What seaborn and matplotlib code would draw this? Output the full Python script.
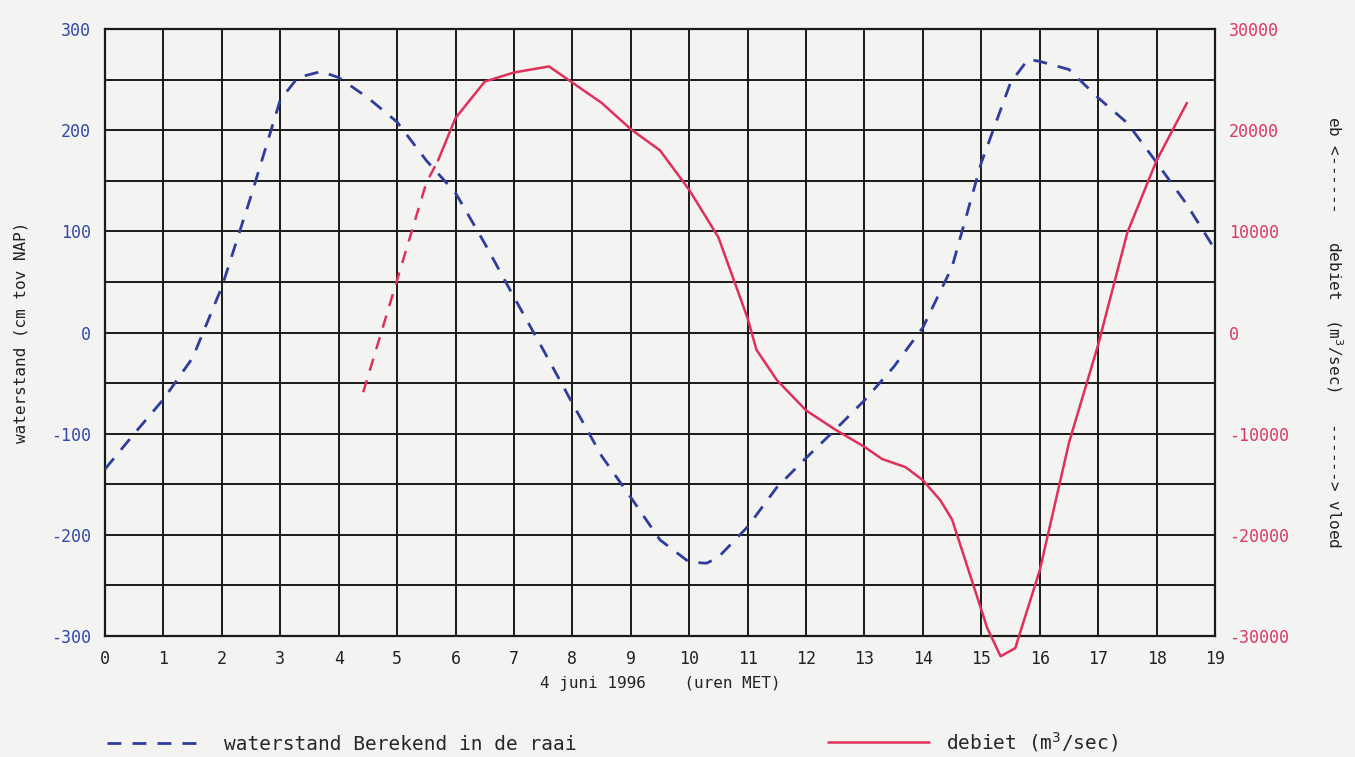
import numpy as np
import matplotlib
matplotlib.use("Agg")
import matplotlib.pyplot as plt
import seaborn as sns
from matplotlib.lines import Line2D

# waterstand (cm tov NAP), per half uur
uren_water = [0, 0.5, 1, 1.5, 2, 2.5, 3, 3.3, 3.7, 4, 4.5, 5, 5.5, 6, 6.5, 7, 7.5, 8,
              8.5, 9, 9.5, 10, 10.3, 10.5, 11, 11.5, 12, 12.5, 13, 13.5, 14, 14.5,
              15, 15.5, 15.8, 16, 16.5, 17, 17.5, 18, 18.5, 19]
waterstand = [-135, -100, -66, -25, 45, 135, 230, 252, 258, 252, 232, 208, 170, 138, 88, 35, -17, -70,
              -122, -163, -205, -227, -228, -222, -192, -153, -124, -96, -67, -34, 5, 65,
              168, 247, 270, 268, 260, 232, 207, 168, 128, 82]

# debiet (m3/sec): eerste deel gestreept, daarna doorgetrokken
uren_debiet_gestreept = [4.42, 5, 5.5, 5.7]
debiet_gestreept = [-5900, 5200, 14800, 17000]
uren_debiet = [5.7, 6, 6.5, 7, 7.5, 7.6, 8, 8.5, 9, 9.5, 10, 10.5, 11, 11.15, 11.5, 12, 12.5,
               13, 13.3, 13.7, 14, 14.3, 14.5, 15, 15.1, 15.33, 15.58, 16, 16.5, 17, 17.5,
               18, 18.3, 18.52]
debiet = [17000, 21200, 24800, 25700, 26200, 26300, 24700, 22700, 20100, 18000, 14100, 9400, 1400,
          -1700, -4700, -7700, -9600, -11300, -12500, -13300, -14600, -16600, -18500, -27400,
          -29200, -32000, -31200, -23500, -10900, -1200, 9900, 17000, 20300, 22700]

uur_ticks = list(range(0, 20))
water_ticks = [-300, -200, -100, 0, 100, 200, 300]
debiet_ticks = [-30000, -20000, -10000, 0, 10000, 20000, 30000]

blauw = "#2e3d9c"
rood = "#e0305a"
tick_blauw = "#3548a8"
tick_rood = "#d9386a"
achtergrond = "#f3f3f1"

sns.set_style("white")
plt.rcParams["font.family"] = ["DejaVu Sans Mono"]
plt.rcParams["axes.unicode_minus"] = False

fig = plt.figure(figsize=(13.55, 7.57), dpi=100, facecolor=achtergrond)
ax = fig.add_axes([0.0775, 0.1598, 0.8192, 0.8019])
ax.set_facecolor(achtergrond)

sns.lineplot(x=uren_water, y=waterstand, ax=ax, color=blauw, lw=2.0,
             linestyle=(0, (5, 4)), zorder=3)

ax.set_xlim(0, 19)
ax.set_ylim(-300, 300)
ax.set_xticks(uur_ticks)
ax.set_yticks(water_ticks)
ax.set_yticks(np.arange(-250, 300, 100), minor=True)
ax.grid(True, which="both", color="#1a1a1a", lw=1.4)
ax.set_axisbelow(True)
for s in ax.spines.values():
    s.set_color("#1a1a1a")
    s.set_linewidth(1.6)
ax.tick_params(axis="both", which="both", length=0)
ax.tick_params(axis="x", pad=10, labelsize=12, labelcolor="#222222")
ax.tick_params(axis="y", pad=10, labelsize=12, labelcolor=tick_blauw)
ax.set_xlabel("4 juni 1996    (uren MET)", fontsize=11.5, labelpad=6, color="#222222")
ax.set_ylabel("waterstand (cm tov NAP)", fontsize=11.5, labelpad=16, color="#222222")

ax2 = ax.twinx()
sns.lineplot(x=uren_debiet_gestreept, y=debiet_gestreept, ax=ax2, color=rood, lw=1.8,
             linestyle=(0, (5, 4)))
sns.lineplot(x=uren_debiet, y=debiet, ax=ax2, color=rood, lw=1.8, clip_on=False)
ax2.set_ylim(-30000, 30000)
ax2.set_yticks(debiet_ticks)
ax2.grid(False)
for s in ax2.spines.values():
    s.set_visible(False)
ax2.tick_params(axis="y", length=0, pad=10, labelsize=12, labelcolor=tick_rood)
ax2.set_ylabel("eb <------   debiet  (m$^3$/sec)   ------> vloed", rotation=270,
               fontsize=11.5, labelpad=40, color="#222222")

# legenda onder de grafiek
h_water = Line2D([], [], color=blauw, lw=2.0, linestyle=(0, (5, 4)))
h_debiet = Line2D([], [], color=rood, lw=1.8)
fig.legend(handles=[h_water], labels=["waterstand Berekend in de raai"],
           loc="lower left", bbox_to_anchor=(0.066, -0.019), frameon=False,
           fontsize=14, handlelength=4.6, handletextpad=1.4)
fig.legend(handles=[h_debiet], labels=["debiet (m$^3$/sec)"],
           loc="lower left", bbox_to_anchor=(0.598, -0.019), frameon=False,
           fontsize=14, handlelength=5.2, handletextpad=0.9)

fig.savefig("out.png", dpi=100, facecolor=achtergrond)
